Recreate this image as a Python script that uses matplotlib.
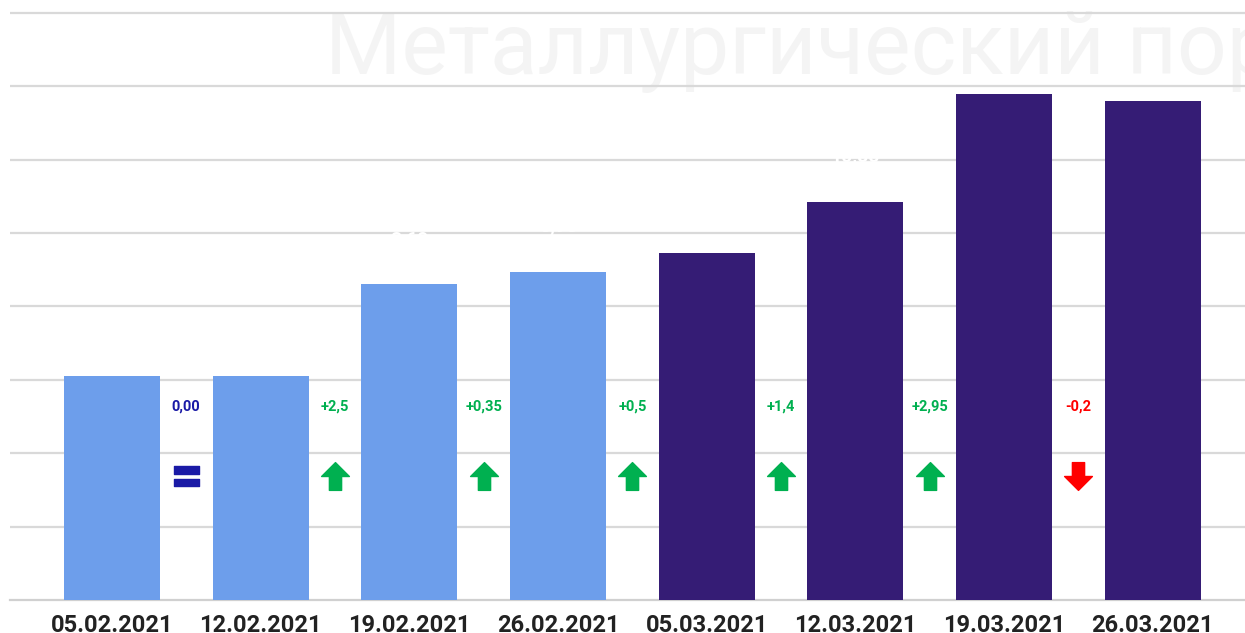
import numpy as np
import matplotlib.pyplot as plt
from matplotlib.path import Path
from matplotlib.transforms import blended_transform_factory

# weekly values
dates = ["05.02.2021", "12.02.2021", "19.02.2021", "26.02.2021",
         "05.03.2021", "12.03.2021", "19.03.2021", "26.03.2021"]
values = [6.1, 6.1, 8.6, 8.95, 9.45, 10.85, 13.8, 13.6]
changes = ["0,00", "+2,5", "+0,35", "+0,5", "+1,4", "+2,95", "-0,2"]
directions = [0, 1, 1, 1, 1, 1, -1]

light = "#6d9eeb"
dark = "#351c75"
bar_colors = [light] * 4 + [dark] * 4

plt.rcParams['font.family'] = ['Roboto', 'DejaVu Sans']

fig = plt.figure(figsize=(12.45, 6.33), dpi=100)
ax = fig.add_axes([10 / 1245, 33 / 633, 1235 / 1245, 600 / 633])

x = np.arange(len(dates))
ax.bar(x, values, width=0.645, color=bar_colors, zorder=3)

ax.set_xlim(-0.685, 7.62)
ax.set_ylim(0, 16.35)
ax.set_yticks([2, 4, 6, 8, 10, 12, 14, 16])
ax.yaxis.grid(True, color="#d9d9d9", lw=1.6, zorder=0)
ax.tick_params(axis="y", left=False, labelleft=False)
ax.tick_params(axis="x", length=0, pad=10)
ax.set_xticks(x)
ax.set_xticklabels(dates, fontsize=17, fontweight="bold", color="#222222")
for s in ["top", "right", "left"]:
    ax.spines[s].set_visible(False)
ax.spines["bottom"].set_color("#d0d0d0")
ax.spines["bottom"].set_linewidth(1.6)

# white value labels above bars (only visible where they cut the grid)
for xi, v in zip(x, values):
    ax.annotate(f"{v:.2f}".replace(".", ","), (xi, v), xytext=(0, 29),
                textcoords="offset points", ha="center", va="baseline",
                fontsize=14, fontweight="bold", color="white", zorder=4)

# change labels and arrows between bars
up = Path([(-0.22, -0.5), (0.22, -0.5), (0.22, 0.0), (0.5, 0.0), (0.0, 0.5),
           (-0.5, 0.0), (-0.22, 0.0), (-0.22, -0.5)],
          [Path.MOVETO] + [Path.LINETO] * 6 + [Path.CLOSEPOLY])
down = Path(up.vertices * [1, -1], up.codes)
eq = Path([(-0.5, 0.1), (0.5, 0.1), (0.5, 0.4), (-0.5, 0.4), (-0.5, 0.1),
           (-0.5, -0.4), (0.5, -0.4), (0.5, -0.1), (-0.5, -0.1), (-0.5, -0.4)],
          [Path.MOVETO, Path.LINETO, Path.LINETO, Path.LINETO, Path.CLOSEPOLY] * 2)

trans = blended_transform_factory(ax.transData, ax.transAxes)
for i, (lab, d) in enumerate(zip(changes, directions)):
    xm = i + 0.5
    if d > 0:
        col, mk, ms = "#00b050", up, 20
    elif d < 0:
        col, mk, ms = "#ff0000", down, 20
    else:
        col, mk, ms = "#1a1aa6", eq, 18
    ax.text(xm, 1 - 407 / 600, lab, transform=trans, ha="center", va="center",
            fontsize=10.5, fontweight="bold", color=col, zorder=5)
    ax.plot([xm], [1 - 476 / 600], transform=trans, marker=mk, markersize=ms,
            color=col, linestyle="none", zorder=5)

# translucent watermark laid over the chart
fig.text(0.261, 1 - 74 / 633, "Металлургический портал", fontsize=63,
         color="#dcdcdc", alpha=0.3, zorder=10)

fig.savefig("out.png", dpi=100)
